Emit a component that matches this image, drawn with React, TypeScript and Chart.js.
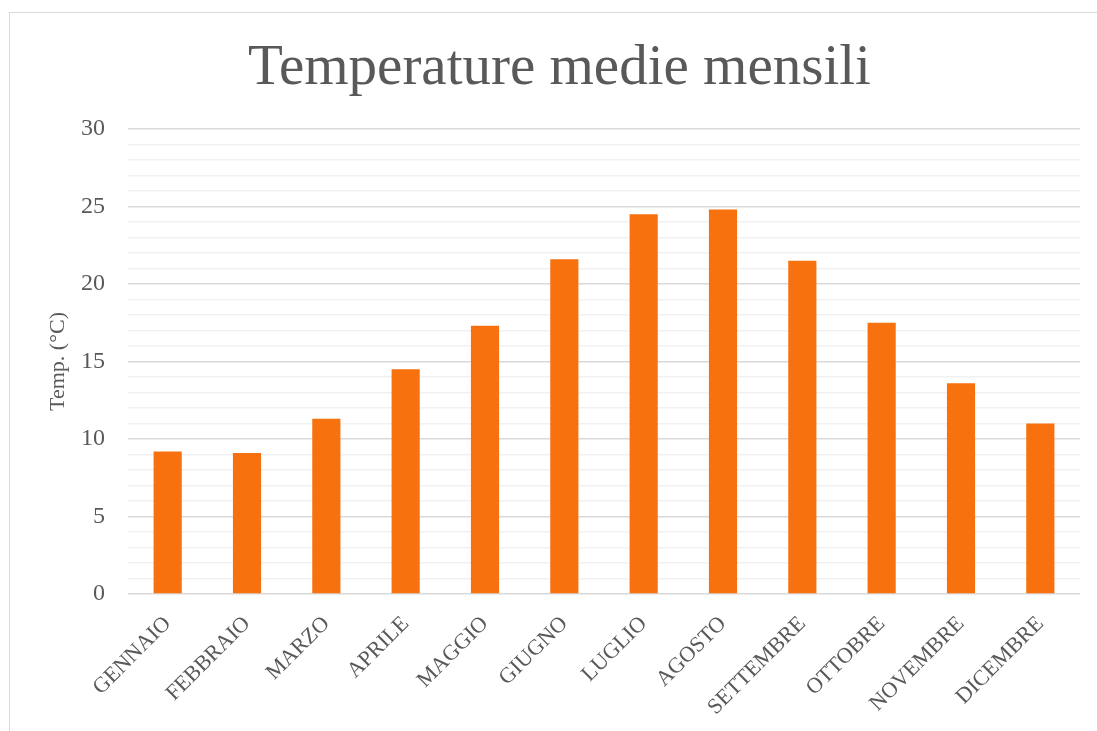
import React, { useEffect, useRef } from "react";
import { Chart, registerables } from "chart.js";

Chart.register(...registerables);

const months = [
  "GENNAIO", "FEBBRAIO", "MARZO", "APRILE", "MAGGIO", "GIUGNO",
  "LUGLIO", "AGOSTO", "SETTEMBRE", "OTTOBRE", "NOVEMBRE", "DICEMBRE",
];
const temperatures = [9.2, 9.1, 11.3, 14.5, 17.3, 21.6, 24.5, 24.8, 21.5, 17.5, 13.6, 11.0];
const yMin = 0;
const yMax = 30;
const majorStep = 5;
const titleText = "Temperature medie mensili";
const yTitleText = "Temp. (°C)";

const FONT = "'Liberation Serif', 'Times New Roman', serif";
const TEXT = "#595959";

export default function App() {
  const ref = useRef<HTMLCanvasElement | null>(null);

  useEffect(() => {
    if (!ref.current) return;
    const chart = new Chart(ref.current, {
      type: "bar",
      data: {
        labels: months,
        datasets: [
          {
            data: temperatures,
            backgroundColor: "#F7720F",
            borderWidth: 0,
            barPercentage: 0.355,
            categoryPercentage: 1,
          },
        ],
      },
      options: {
        animation: false,
        responsive: false,
        layout: { padding: { left: 39, right: 17, top: 0, bottom: 0 } },
        plugins: {
          legend: { display: false },
          tooltip: { enabled: false },
          title: {
            display: true,
            text: titleText,
            color: TEXT,
            font: { family: FONT, size: 57, weight: "normal" },
            padding: { top: 35, bottom: 25.6 },
          },
        },
        scales: {
          x: {
            grid: { display: false },
            border: { display: false },
            ticks: {
              color: TEXT,
              font: { family: FONT, size: 22 },
              maxRotation: 45,
              minRotation: 45,
              padding: 9,
              autoSkip: false,
            },
            afterFit: (scale: any) => {
              scale.height = 137;
            },
          },
          y: {
            min: yMin,
            max: yMax,
            border: { display: false },
            grid: {
              drawTicks: false,
              lineWidth: 1.5,
              color: (ctx: any) =>
                ctx.tick && ctx.tick.value % majorStep === 0 ? "#d9d9d9" : "#f1f1f1",
            },
            ticks: {
              stepSize: 1,
              autoSkip: false,
              padding: 23,
              color: TEXT,
              font: { family: FONT, size: 24 },
              callback: (v: any) => (Number(v) % majorStep === 0 ? String(v) : ""),
            },
            title: {
              display: true,
              text: yTitleText,
              color: TEXT,
              font: { family: FONT, size: 22 },
              padding: { top: 6, bottom: 0 },
            },
            afterFit: (scale: any) => {
              scale.width = 89;
            },
          },
        },
      },
    });
    return () => chart.destroy();
  }, []);

  return (
    <div style={{ position: "fixed", left: 0, top: 0, width: 1097, height: 731, overflow: "hidden", background: "#fff" }}>
      <div
        style={{
          position: "absolute",
          left: 9,
          top: 12,
          width: 1120,
          height: 760,
          border: "1.5px solid #d9d9d9",
        }}
      />
      <canvas
        ref={ref}
        width={1097}
        height={731}
        style={{ position: "absolute", left: 0, top: 0, width: 1097, height: 731 }}
      />
    </div>
  );
}
